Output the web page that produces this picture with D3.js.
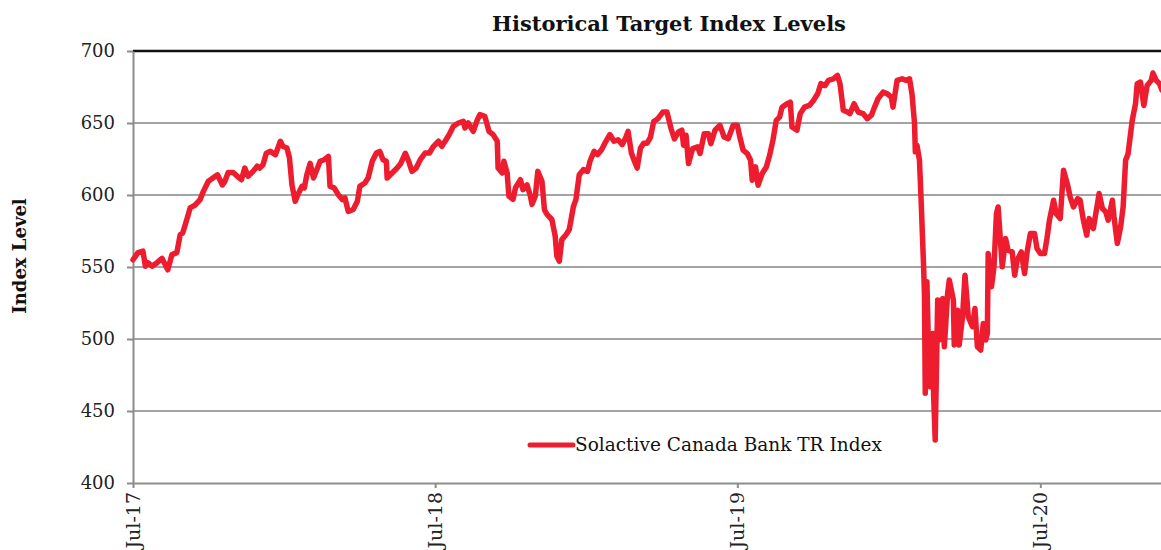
<!DOCTYPE html>
<html>
<head>
  <meta charset="utf-8">
  <style>
    body {
      margin: 0;
      background: #fff;
      font-family: 'DejaVu Serif', serif;
    }
    .grid line {
      stroke: #a3a3a3;
      stroke-width: 2px;
    }
    .axis text {
      fill: #222;
      font-family: 'DejaVu Serif', serif;
    }
    .axis path,
    .axis line {
      stroke: #8c8c8c;
      stroke-width: 2px;
    }
  </style>
</head>
<body>
  <div id="chart"></div>

  <script src="https://d3js.org/d3.v7.min.js"></script>
  <script>
    var seriesName = 'Solactive Canada Bank TR Index';

    var dates = [
      '2017-07-01', '2017-07-07', '2017-07-13', '2017-07-16', '2017-07-19', '2017-07-24', '2017-07-30',
      '2017-08-05', '2017-08-09', '2017-08-12', '2017-08-17', '2017-08-23', '2017-08-27', '2017-08-30',
      '2017-09-04', '2017-09-08', '2017-09-14', '2017-09-20', '2017-09-24', '2017-09-30',
      '2017-10-06', '2017-10-11', '2017-10-17', '2017-10-20', '2017-10-24', '2017-10-30',
      '2017-11-04', '2017-11-09', '2017-11-13', '2017-11-17', '2017-11-23', '2017-11-28',
      '2017-12-01', '2017-12-05', '2017-12-09', '2017-12-14', '2017-12-20', '2017-12-26', '2017-12-29',
      '2018-01-03', '2018-01-06', '2018-01-09', '2018-01-13', '2018-01-16', '2018-01-21', '2018-01-24', '2018-01-27', '2018-01-31',
      '2018-02-04', '2018-02-08', '2018-02-12', '2018-02-17', '2018-02-22', '2018-02-24',
      '2018-03-01', '2018-03-06', '2018-03-11', '2018-03-14', '2018-03-18', '2018-03-24', '2018-03-29',
      '2018-04-01', '2018-04-07', '2018-04-11', '2018-04-16', '2018-04-21', '2018-04-25', '2018-04-29',
      '2018-05-03', '2018-05-04', '2018-05-10', '2018-05-16', '2018-05-20', '2018-05-26', '2018-05-30',
      '2018-06-03', '2018-06-08', '2018-06-13', '2018-06-19', '2018-06-24', '2018-06-29',
      '2018-07-05', '2018-07-09', '2018-07-13', '2018-07-18', '2018-07-23', '2018-07-29',
      '2018-08-04', '2018-08-06', '2018-08-10', '2018-08-16', '2018-08-21', '2018-08-24', '2018-08-30',
      '2018-09-04', '2018-09-09', '2018-09-14', '2018-09-15', '2018-09-20', '2018-09-22', '2018-09-26', '2018-09-28',
      '2018-10-03', '2018-10-06', '2018-10-12', '2018-10-15', '2018-10-20', '2018-10-24', '2018-10-26', '2018-10-30',
      '2018-11-02', '2018-11-07', '2018-11-10', '2018-11-13', '2018-11-19', '2018-11-23', '2018-11-25', '2018-11-28',
      '2018-12-01', '2018-12-06', '2018-12-10', '2018-12-15', '2018-12-18', '2018-12-22', '2018-12-27',
      '2019-01-01', '2019-01-04', '2019-01-09', '2019-01-13', '2019-01-18', '2019-01-22', '2019-01-28',
      '2019-02-02', '2019-02-07', '2019-02-12', '2019-02-16', '2019-02-19', '2019-02-23', '2019-02-26',
      '2019-03-02', '2019-03-06', '2019-03-10', '2019-03-14', '2019-03-18', '2019-03-22', '2019-03-27',
      '2019-04-02', '2019-04-07', '2019-04-12', '2019-04-16', '2019-04-21', '2019-04-25', '2019-04-27', '2019-04-30',
      '2019-05-03', '2019-05-08', '2019-05-14', '2019-05-17', '2019-05-22', '2019-05-27', '2019-05-30',
      '2019-06-04', '2019-06-10', '2019-06-15', '2019-06-20', '2019-06-26',
      '2019-07-01', '2019-07-04', '2019-07-08', '2019-07-13', '2019-07-17', '2019-07-19', '2019-07-23', '2019-07-26', '2019-07-31',
      '2019-08-05', '2019-08-09', '2019-08-13', '2019-08-17', '2019-08-21', '2019-08-24', '2019-08-30',
      '2019-09-03', '2019-09-05', '2019-09-11', '2019-09-15', '2019-09-20', '2019-09-26',
      '2019-10-01', '2019-10-06', '2019-10-10', '2019-10-15', '2019-10-19', '2019-10-25', '2019-10-30',
      '2019-11-02', '2019-11-06', '2019-11-11', '2019-11-14', '2019-11-19', '2019-11-24', '2019-11-30',
      '2019-12-05', '2019-12-10', '2019-12-13', '2019-12-18', '2019-12-24', '2019-12-29',
      '2020-01-03', '2020-01-05', '2020-01-10', '2020-01-16', '2020-01-21', '2020-01-25', '2020-01-28', '2020-01-31',
      '2020-02-01', '2020-02-03', '2020-02-06', '2020-02-08', '2020-02-11', '2020-02-12', '2020-02-13', '2020-02-15',
      '2020-02-17', '2020-02-19', '2020-02-22', '2020-02-23', '2020-02-25', '2020-02-28',
      '2020-03-01', '2020-03-05', '2020-03-07', '2020-03-11', '2020-03-13', '2020-03-18', '2020-03-19', '2020-03-23', '2020-03-25', '2020-03-29',
      '2020-04-01', '2020-04-05', '2020-04-10', '2020-04-13', '2020-04-16', '2020-04-20', '2020-04-23', '2020-04-26', '2020-04-28', '2020-04-29',
      '2020-05-03', '2020-05-06', '2020-05-09', '2020-05-11', '2020-05-16', '2020-05-20', '2020-05-23', '2020-05-28', '2020-05-31',
      '2020-06-03', '2020-06-08', '2020-06-12', '2020-06-15', '2020-06-19', '2020-06-24', '2020-06-27',
      '2020-07-01', '2020-07-06', '2020-07-09', '2020-07-12', '2020-07-17', '2020-07-20', '2020-07-25', '2020-07-29',
      '2020-08-03', '2020-08-06', '2020-08-10', '2020-08-15', '2020-08-18', '2020-08-22', '2020-08-26', '2020-08-29',
      '2020-09-03', '2020-09-08', '2020-09-10', '2020-09-14', '2020-09-18', '2020-09-21', '2020-09-26', '2020-09-28',
      '2020-10-02', '2020-10-06', '2020-10-09', '2020-10-12', '2020-10-15', '2020-10-20', '2020-10-24', '2020-10-26', '2020-10-30',
      '2020-11-03', '2020-11-07', '2020-11-12', '2020-11-14', '2020-11-18', '2020-11-22', '2020-11-25', '2020-11-28'
    ];

    var levels = [
      555, 560, 561, 550.5, 553, 550.5, 553,
      556, 551.6, 548, 558.6, 560, 572.4, 573.6,
      583, 591, 593, 596.8, 602.5, 609.5,
      612, 614, 607, 609.5, 615.7, 615.7,
      613, 610.6, 618.7, 613, 616.4, 620,
      618.7, 621, 629, 630.3, 628, 637.3, 633.8,
      632.6, 625.7, 607, 595.6, 600, 606, 605, 614, 622,
      611.8, 617.6, 623.4, 624.5, 626.8, 606,
      605, 600.2, 596.8, 598, 588.6, 590, 595.6,
      606, 608.3, 611.8, 623.4, 629.2, 630.3, 624.5,
      623.4, 611.8, 615.3, 618.7, 621.5, 629, 623.4,
      616.4, 618.7, 624.5, 629.2, 629.2, 633.8,
      637.3, 633.8, 637.3, 642, 647.7, 650,
      651.2, 646.5, 650, 644.2, 652.3, 655.8, 654.6,
      644.2, 641.9, 637.3, 618.7, 615.3, 623.4, 615.3, 599.3,
      597, 605, 610.6, 603.7, 607, 599.3, 593.5, 599.3,
      616.4, 609.5, 589.8, 586.6, 583, 571.3, 557.4, 554,
      569, 572.4, 576, 592, 596.8, 614, 617.6,
      616.4, 623.4, 630.3, 628, 631.5, 636, 642,
      637.3, 638.4, 635, 639.6, 644.2, 629.2, 624.5,
      618.7, 632.6, 636, 636, 640, 651, 653,
      657.6, 657.6, 646, 639, 643.8, 645, 634.5, 641.5,
      621.8, 632.2, 633.4, 628.8, 642.6, 642.6, 635.7,
      645, 648.4, 640.3, 639.1, 648.4,
      648.4, 640.3, 631.1, 628.8, 624.1, 610.3, 619.5, 606.8, 614.9,
      619.5, 627.6, 638, 651.8, 654.1, 661, 663.4,
      664.5, 647.2, 645, 656.5, 661, 662.2,
      665.7, 670.3, 677.3, 676, 679.6, 680.7, 683,
      677.3, 658.8, 657.6, 656.5, 663.4, 657.6, 656.5,
      653, 655.4, 660, 666.9, 671.5, 670.3,
      668, 661, 679.6, 680.7, 679.6, 680.7, 670, 650,
      630, 634.5, 624.1, 596.4, 550.1, 531.6, 462.3, 539.7,
      490, 466.9, 503.9, 462.3, 429.9, 527,
      499.3, 528.2, 494.6, 531.6, 540.9, 527, 495.8, 520, 495.8, 515.4,
      544.3, 515.4, 508.5, 521.2, 494.6, 492.3, 510.8, 499.3, 503.9, 559.4,
      536.3, 550.1, 587.1, 591.7, 550.1, 569.8, 561.7, 560.5, 544.3,
      554.7, 560.5, 545.5, 560.5, 573.2, 573.2, 562.8,
      559.4, 559.4, 569.8, 582.5, 596.4, 587.1, 583.6, 617.2,
      606.8, 598.7, 591.7, 597.5, 596.4, 582.5, 572.1, 583.6,
      576.7, 594, 601, 590.6, 588.3, 582.5, 596.4, 584.8,
      566.3, 577.9, 591.7, 624.1, 628.7, 651.8, 663.4, 677.3, 678.4,
      662.2, 676.1, 679.6, 684.7, 679.6, 677.3, 672.7, 672
    ];

    var yTicks = [400, 450, 500, 550, 600, 650, 700];
    var xTicks = ['2017-07-01', '2018-07-01', '2019-07-01', '2020-07-01'];

    var width = 1161,
      height = 550,
      margin = { top: 51, right: -6, bottom: 67, left: 133 };

    var parse = d3.timeParse('%Y-%m-%d');
    var data = dates.map(function(d, i) {
      return { date: parse(d), value: levels[i] };
    });

    var innerW = width - margin.left - margin.right,
      innerH = height - margin.top - margin.bottom;

    var x = d3.scaleTime()
      .domain([parse('2017-07-01'), parse('2020-12-01')])
      .range([0, innerW]);

    var y = d3.scaleLinear()
      .domain([400, 700])
      .range([innerH, 0]);

    var svg = d3.select('#chart').append('svg')
      .attr('width', width)
      .attr('height', height);

    var g = svg.append('g')
      .attr('transform', 'translate(' + margin.left + ',' + margin.top + ')');

    // gridlines
    g.append('g')
      .attr('class', 'grid')
      .selectAll('line')
      .data(yTicks.filter(function(t) { return t > 400 && t < 700; }))
      .enter().append('line')
      .attr('x1', 0)
      .attr('x2', innerW)
      .attr('y1', function(d) { return y(d); })
      .attr('y2', function(d) { return y(d); });

    // top border in black
    g.append('line')
      .attr('x1', 0)
      .attr('x2', innerW)
      .attr('y1', y(700))
      .attr('y2', y(700))
      .style('stroke', '#111')
      .style('stroke-width', '2.5px');

    // y axis
    var yAxis = g.append('g')
      .attr('class', 'axis')
      .call(d3.axisLeft(y).tickValues(yTicks).tickSize(6).tickPadding(12).tickSizeOuter(0));
    yAxis.selectAll('text').style('font-size', '18px');

    // x axis
    var xAxis = g.append('g')
      .attr('class', 'axis')
      .attr('transform', 'translate(0,' + innerH + ')')
      .call(d3.axisBottom(x).tickValues(xTicks.map(parse)).tickSize(5).tickSizeOuter(0)
        .tickFormat(d3.timeFormat('%b-%y')));
    xAxis.selectAll('text')
      .style('font-size', '19px')
      .attr('text-anchor', 'end')
      .attr('transform', 'rotate(-90)')
      .attr('x', -9)
      .attr('y', 0)
      .attr('dy', '0.35em');

    // line
    var line = d3.line()
      .x(function(d) { return x(d.date); })
      .y(function(d) { return y(d.value); });

    g.append('path')
      .datum(data)
      .attr('d', line)
      .style('fill', 'none')
      .style('stroke', '#ee1c2f')
      .style('stroke-width', '5.5px')
      .style('stroke-linejoin', 'round')
      .style('stroke-linecap', 'round');

    // legend
    var legend = g.append('g')
      .attr('transform', 'translate(' + (530 - margin.left) + ',' + (445 - margin.top) + ')');
    legend.append('line')
      .attr('x1', 0)
      .attr('x2', 43)
      .style('stroke', '#ee1c2f')
      .style('stroke-width', '5px')
      .style('stroke-linecap', 'round');
    legend.append('text')
      .attr('x', 45)
      .attr('dy', '0.35em')
      .style('font-size', '18.5px')
      .style('fill', '#111')
      .text(seriesName);

    // title
    svg.append('text')
      .attr('x', 669)
      .attr('y', 31)
      .attr('text-anchor', 'middle')
      .style('font-size', '21px')
      .style('font-weight', 'bold')
      .style('fill', '#111')
      .text('Historical Target Index Levels');

    // y label
    svg.append('text')
      .attr('transform', 'translate(26,256) rotate(-90)')
      .attr('text-anchor', 'middle')
      .style('font-size', '18px')
      .style('font-weight', 'bold')
      .style('fill', '#111')
      .text('Index Level');
  </script>
</body>
</html>
